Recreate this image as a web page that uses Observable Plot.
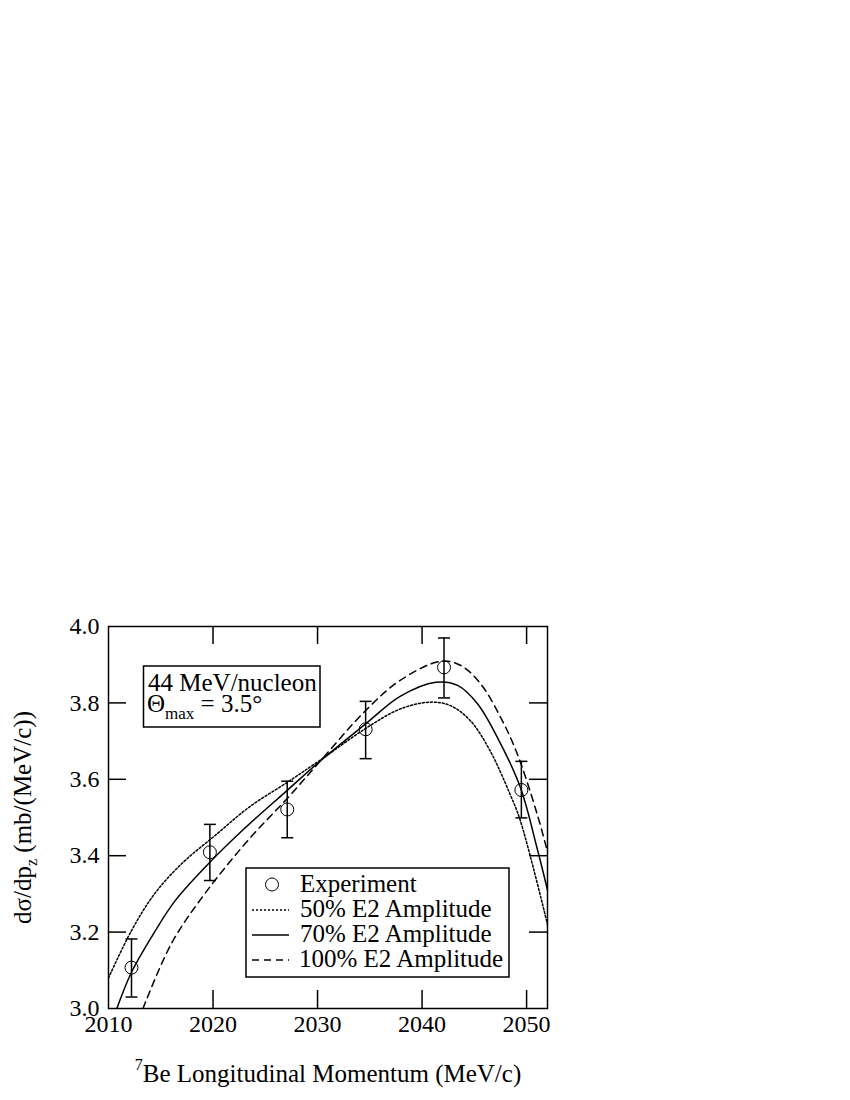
<!DOCTYPE html>
<html><head><meta charset="utf-8">
<script src="https://cdn.jsdelivr.net/npm/d3@7"></script>
<script src="https://cdn.jsdelivr.net/npm/@observablehq/plot@0.6"></script>
<style>
body{margin:0;background:#fff}
#chart svg{display:block}
</style>
</head><body><div id="chart"></div>
<script>
// ---- tick labels ----
const xTickValues = [2010, 2020, 2030, 2040, 2050];
const yTickValues = [3.0, 3.2, 3.4, 3.6, 3.8, 4.0];
const xInnerTicks = [2020, 2030, 2040, 2050];
const yInnerTicks = [3.2, 3.4, 3.6, 3.8];

// ---- experiment ----
const expMomentum = [2012.2, 2019.7, 2027.1, 2034.6, 2042.1, 2049.5];
const expValue    = [3.107, 3.409, 3.521, 3.731, 3.893, 3.572];
const expLow      = [3.030, 3.335, 3.447, 3.654, 3.813, 3.499];
const expHigh     = [3.182, 3.482, 3.595, 3.804, 3.970, 3.647];

// ---- calculations ----
const mom50 = [2010.0, 2012.2, 2014.4, 2017.0, 2020.2, 2023.5, 2027.1, 2030.3, 2034.6, 2037.9, 2040.8, 2042.7, 2044.6, 2046.5, 2048.4, 2049.4, 2052.0];
const val50 = [3.080, 3.204, 3.300, 3.379, 3.453, 3.528, 3.592, 3.651, 3.733, 3.784, 3.802, 3.793, 3.754, 3.675, 3.562, 3.492, 3.220];

const mom70 = [2010.8, 2012.2, 2014.4, 2016.4, 2019.7, 2022.8, 2027.1, 2030.3, 2034.6, 2037.9, 2041.3, 2043.4, 2045.3, 2047.2, 2049.4, 2051.0, 2052.0];
const val70 = [3.000, 3.095, 3.200, 3.283, 3.383, 3.466, 3.571, 3.649, 3.745, 3.817, 3.854, 3.846, 3.798, 3.710, 3.579, 3.420, 3.310];

const mom100 = [2013.3, 2016.0, 2019.2, 2023.5, 2027.1, 2030.3, 2034.6, 2037.9, 2041.8, 2043.7, 2045.6, 2047.5, 2049.1, 2051.0, 2052.0];
const val100 = [3.000, 3.169, 3.300, 3.445, 3.550, 3.649, 3.780, 3.859, 3.909, 3.898, 3.850, 3.763, 3.667, 3.510, 3.410];

const seriesNames = ["50% E2 Amplitude", "70% E2 Amplitude", "100% E2 Amplitude"];
const seriesDash = ["2,2", null, "7,5"];
const experimentName = "Experiment";

const xLabelSup = "7";
const xLabelMain = "Be Longitudinal Momentum (MeV/c)";
const yLabelPre = "d\u03C3/dp";
const yLabelSub = "z";
const yLabelPost = " (mb/(MeV/c))";
const noteLine1 = "44 MeV/nucleon";
const noteSym = "\u0398";
const noteSub = "max";
const noteRest = " = 3.5\u00B0";

// ---- tables ----
const exp = expMomentum.map((p, i) => ({p, v: expValue[i], lo: expLow[i], hi: expHigh[i]}));
const curveSets = [[mom50, val50], [mom70, val70], [mom100, val100]].map(([m, v], k) =>
  m.map((p, i) => ({p, v: v[i], series: seriesNames[k]})));

const FONT = "'Liberation Serif', 'Times New Roman', serif";
const W = 850, H = 1100;
const mL = 108, mR = 303, mT = 626, mB = 92;
const innerW = W - mL - mR, innerH = H - mT - mB;
const TL = 18;
const capSymbol = {draw(ctx, size) { const r = Math.sqrt(size / Math.PI); ctx.moveTo(-r, 0); ctx.lineTo(r, 0); }};

const svg = Plot.plot({
  width: W, height: H,
  marginLeft: mL, marginRight: mR, marginTop: mT, marginBottom: mB,
  style: {fontFamily: FONT, fontSize: "24px", color: "black", background: "white"},
  x: {domain: [2010, 2052]},
  y: {domain: [3.0, 4.0]},
  marks: [
    Plot.tickX(xInnerTicks, {x: d => d, insetTop: innerH - TL, strokeWidth: 1.5}),
    Plot.tickX(xInnerTicks, {x: d => d, insetBottom: innerH - TL, strokeWidth: 1.5}),
    Plot.tickY(yInnerTicks, {y: d => d, insetRight: innerW - TL, strokeWidth: 1.5}),
    Plot.tickY(yInnerTicks, {y: d => d, insetLeft: innerW - TL, strokeWidth: 1.5}),
    Plot.axisX(xTickValues, {tickSize: 0, tickPadding: 6, tickFormat: d => String(d), label: null}),
    Plot.axisY(yTickValues, {tickSize: 0, tickPadding: 9, tickFormat: d => d.toFixed(1), label: null}),
    ...curveSets.map((data, k) => Plot.line(data, {x: "p", y: "v", curve: "catmull-rom", stroke: "black", strokeWidth: 1.5, strokeDasharray: seriesDash[k], clip: true})),
    Plot.ruleX(exp, {x: "p", y1: "lo", y2: "hi", strokeWidth: 1.5}),
    Plot.dot(exp, {x: "p", y: "lo", symbol: capSymbol, r: 6, stroke: "black", strokeWidth: 1.5}),
    Plot.dot(exp, {x: "p", y: "hi", symbol: capSymbol, r: 6, stroke: "black", strokeWidth: 1.5}),
    Plot.dot(exp, {x: "p", y: "v", r: 6.5, stroke: "black", strokeWidth: 1, fill: "none"}),
    Plot.frame({strokeWidth: 1.5}),
    Plot.text([xLabelSup + xLabelMain], {text: d => d, frameAnchor: "bottom", textAnchor: "middle", dy: 69, fontSize: 25}),
    Plot.text([yLabelPre + yLabelSub + yLabelPost], {text: d => d, frameAnchor: "left", textAnchor: "middle", dx: -86, rotate: -90, fontSize: 25})
  ]
});

const root = d3.select(svg);
root.selectAll("text").each(function() {
  const t = d3.select(this);
  const s = this.textContent;
  if (s === xLabelSup + xLabelMain) {
    t.text(null);
    t.append("tspan").attr("font-size", 16).attr("dy", "-0.45em").text(xLabelSup);
    t.append("tspan").attr("dy", "0.45em").text(xLabelMain);
  } else if (s === yLabelPre + yLabelSub + yLabelPost) {
    t.text(null);
    t.append("tspan").text(yLabelPre);
    t.append("tspan").attr("font-size", 16).attr("dy", 6).text(yLabelSub);
    t.append("tspan").attr("dy", -6).text(yLabelPost);
  }
});

// ---- annotation box ----
const note = root.append("g").attr("font-family", FONT).attr("font-size", 25).attr("fill", "black").attr("text-anchor", "start");
note.append("rect").attr("x", 143.5).attr("y", 666).attr("width", 176.5).attr("height", 61).attr("fill", "white").attr("stroke", "black").attr("stroke-width", 1.5);
note.append("text").attr("x", 148).attr("y", 690.5).text(noteLine1);
const n2 = note.append("text").attr("x", 147).attr("y", 712);
n2.append("tspan").text(noteSym);
n2.append("tspan").attr("font-size", 17).attr("dy", 7).text(noteSub);
n2.append("tspan").attr("dy", -7).text(noteRest);

// ---- legend ----
const lg = root.append("g").attr("font-family", FONT).attr("font-size", 25).attr("fill", "black").attr("text-anchor", "start");
lg.append("rect").attr("x", 246).attr("y", 868).attr("width", 263).attr("height", 109).attr("fill", "white").attr("stroke", "black").attr("stroke-width", 1.5);
const rowY = [884.5, 910, 935, 960];
lg.append("circle").attr("cx", 272).attr("cy", rowY[0]).attr("r", 6.5).attr("fill", "none").attr("stroke", "black").attr("stroke-width", 1);
lg.append("text").attr("x", 300).attr("y", rowY[0] + 7).text(experimentName);
seriesNames.forEach((name, k) => {
  const y = rowY[k + 1];
  lg.append("line").attr("x1", 252).attr("x2", 289).attr("y1", y).attr("y2", y)
    .attr("stroke", "black").attr("stroke-width", 1.5).attr("stroke-dasharray", seriesDash[k]);
  lg.append("text").attr("x", k === 2 ? 299 : 300).attr("y", y + 7).text(name);
});

document.getElementById("chart").appendChild(svg);
</script>
</body></html>
